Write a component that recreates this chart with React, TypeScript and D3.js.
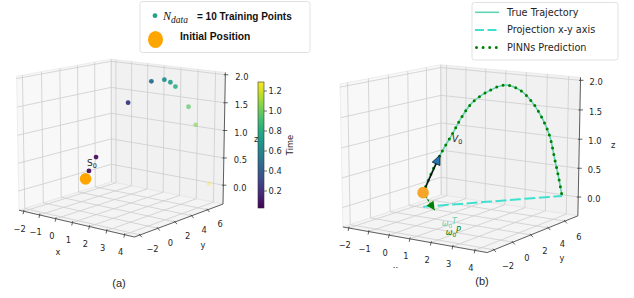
import React from 'react';
import * as d3 from 'd3';

// values
const xTicks = [-2, -1, 0, 1, 2, 3, 4];
const yTicks = [-2, 0, 2, 4, 6];
const zTicks = [0, 0.5, 1, 1.5, 2];
const cbTicks = [0.2, 0.4, 0.6, 0.8, 1.0, 1.2];
const timeRange: [number, number] = [0.03, 1.29];

// initial position S0
const s0 = [0.28, 0.15, 0.24];

// N_data = 10 training points, panel (a)
const trainX = [0.38, 0.59, 1.53, 2.21, 2.59, 2.77, 2.92, 3.32, 3.54, 3.97];
const trainY = [0.35, 0.76, 2.61, 3.96, 4.72, 5.07, 5.37, 6.15, 6.59, 7.44];
const trainZ = [0.38, 0.62, 1.56, 1.92, 1.94, 1.89, 1.81, 1.44, 1.11, 0.02];
const trainT = [0.03, 0.07, 0.28, 0.5, 0.64, 0.72, 0.8, 0.97, 1.05, 1.29];

// trajectory, panel (b)
const trajX = [0.28, 0.5, 0.71, 1.04, 1.22, 1.52, 1.91, 2.37, 2.75, 3.09, 3.36, 3.55, 3.69, 3.8, 3.9];
const trajY = [0.15, 0.58, 1.0, 1.65, 2.0, 2.6, 3.36, 4.27, 5.03, 5.71, 6.23, 6.61, 6.89, 7.1, 7.3];
const trajZ = [0.24, 0.57, 0.85, 1.21, 1.42, 1.69, 1.86, 1.96, 1.86, 1.63, 1.34, 1.04, 0.64, 0.33, 0.0];

const v0Tip = [0.71, 1.0, 0.85];
const omegaTip = [1.05, -0.3, 0.01];

const legendB = ['True Trajectory', 'Projection x-y axis', 'PINNs Prediction'];

const TRUE_COLOR = '#62d3b3';
const PROJ_COLOR = '#40e0d0';
const PRED_COLOR = '#008000';
const ORANGE = '#ffa500';
const GRID = '#cdcdcd';
const INK = '#262626';
const SANS = 'DejaVu Sans, sans-serif';
const TICK_FS = 8.3;

type Pt = { x: number; y: number; depth: number };
type View = {
  xlim: [number, number];
  ylim: [number, number];
  zlim: [number, number];
  azim: number;
  elev: number;
  dist: number;
  zAspect: number;
  sx: number;
  sy: number;
  cx: number;
  cy: number;
  xLab: [number, number];
  yLab: [number, number];
  zLab: [number, number];
  xTitle: [number, number];
  yTitle: [number, number];
  zTitle: [number, number];
  clipBottom: number;
};

const viewA: View = {
  xlim: [-2.3, 4.55], ylim: [-2.6, 8.0], zlim: [-0.35, 2.04],
  azim: -51.4, elev: 12, dist: 16, zAspect: 0.9,
  sx: 73.4, sy: 75.4, cx: 122, cy: 141.5,
  xLab: [-4, 17.5], yLab: [12.5, 14.5], zLab: [10, 2.5],
  xTitle: [-16.5, 29], yTitle: [22, 25], zTitle: [32, 0],
  clipBottom: 298,
};

const viewB: View = {
  xlim: [-2.3, 4.55], ylim: [-2.7, 7.6], zlim: [-0.33, 2.05],
  azim: -56, elev: 12, dist: 16, zAspect: 0.9,
  sx: 85.6, sy: 79.9, cx: 462.3, cy: 151.8,
  xLab: [-4, 17.5], yLab: [14, 16], zLab: [9, 2],
  xTitle: [-17, 29.5], yTitle: [27, 24.5], zTitle: [34, -2],
  clipBottom: 268,
};

function projector(v: View) {
  const a = (v.azim * Math.PI) / 180;
  const e = (v.elev * Math.PI) / 180;
  const nx = d3.scaleLinear().domain(v.xlim).range([-1, 1]);
  const ny = d3.scaleLinear().domain(v.ylim).range([-1, 1]);
  const nz = d3.scaleLinear().domain(v.zlim).range([-v.zAspect, v.zAspect]);
  const right = [-Math.sin(a), Math.cos(a), 0];
  const up = [-Math.sin(e) * Math.cos(a), -Math.sin(e) * Math.sin(a), Math.cos(e)];
  const toward = [Math.cos(e) * Math.cos(a), Math.cos(e) * Math.sin(a), Math.sin(e)];
  return (x: number, y: number, z: number): Pt => {
    const p = [nx(x), ny(y), nz(z)];
    const dot = (q: number[]) => p[0] * q[0] + p[1] * q[1] + p[2] * q[2];
    const depth = dot(toward);
    const f = v.dist / (v.dist - depth);
    return { x: v.cx + v.sx * dot(right) * f, y: v.cy - v.sy * dot(up) * f, depth };
  };
}

const fmtAxis = (t: number) => (t < 0 ? `\u2212${Math.abs(t)}` : `${t}`);

const Axes3D = ({ v, P, id }: { v: View; P: (x: number, y: number, z: number) => Pt; id: string }) => {
  const [x0, x1] = v.xlim;
  const [y0, y1] = v.ylim;
  const [z0, z1] = v.zlim;
  const poly = (arr: number[][]) =>
    arr.map(([x, y, z]) => { const q = P(x, y, z); return `${q.x.toFixed(2)},${q.y.toFixed(2)}`; }).join(' ');

  const unit = (d: [number, number]) => { const l = Math.hypot(d[0], d[1]); return [d[0] / l, d[1] / l]; };
  const ux = unit(v.xLab);
  const uy = unit(v.yLab);

  const xa = P((x0 + x1) / 2, y0, z0);
  const ya = P(x1, (y0 + y1) / 2, z0);
  const za = P(x1, y1, (z0 + z1) / 2);

  return (
    <g>
      <defs>
        <clipPath id={`clip-${id}`}>
          <rect x={0} y={0} width={634} height={v.clipBottom} />
        </clipPath>
      </defs>
      {/* panes */}
      <polygon points={poly([[x0, y0, z0], [x0, y1, z0], [x0, y1, z1], [x0, y0, z1]])} fill="#f8f8f8" stroke="#e3e3e3" strokeWidth={0.6} />
      <polygon points={poly([[x0, y1, z0], [x1, y1, z0], [x1, y1, z1], [x0, y1, z1]])} fill="#f1f1f1" stroke="#e3e3e3" strokeWidth={0.6} />
      <polygon points={poly([[x0, y0, z0], [x1, y0, z0], [x1, y1, z0], [x0, y1, z0]])} fill="#f4f4f4" stroke="#e3e3e3" strokeWidth={0.6} />
      {/* grid */}
      <g fill="none" stroke={GRID} strokeWidth={0.8}>
        {xTicks.map((t) => (
          <polyline key={`gx${t}`} points={poly([[t, y0, z0], [t, y1, z0], [t, y1, z1]])} />
        ))}
        {yTicks.map((t) => (
          <polyline key={`gy${t}`} points={poly([[x1, t, z0], [x0, t, z0], [x0, t, z1]])} />
        ))}
        {zTicks.map((t) => (
          <polyline key={`gz${t}`} points={poly([[x0, y0, t], [x0, y1, t], [x1, y1, t]])} />
        ))}
        <polyline points={poly([[x0, y1, z0], [x0, y1, z1]])} />
      </g>
      {/* axis lines */}
      <g fill="none" stroke="#3a3a3a" strokeWidth={0.8}>
        <polyline points={poly([[x0, y0, z0], [x1, y0, z0]])} />
        <polyline points={poly([[x1, y0, z0], [x1, y1, z0]])} />
        <polyline points={poly([[x1, y1, z0], [x1, y1, z1]])} />
      </g>
      <g fontFamily={SANS} fontSize={TICK_FS} fill={INK}>
        {xTicks.map((t) => {
          const q = P(t, y0, z0);
          return (
            <g key={`tx${t}`}>
              <line x1={q.x - ux[0] * 1.5} y1={q.y - ux[1] * 1.5} x2={q.x + ux[0] * 3} y2={q.y + ux[1] * 3} stroke="#3a3a3a" strokeWidth={0.8} />
              <text x={q.x + v.xLab[0]} y={q.y + v.xLab[1]} textAnchor="middle" dy="0.35em">{fmtAxis(t)}</text>
            </g>
          );
        })}
        {yTicks.map((t) => {
          const q = P(x1, t, z0);
          return (
            <g key={`ty${t}`}>
              <line x1={q.x - uy[0] * 1.5} y1={q.y - uy[1] * 1.5} x2={q.x + uy[0] * 3} y2={q.y + uy[1] * 3} stroke="#3a3a3a" strokeWidth={0.8} />
              <text x={q.x + v.yLab[0]} y={q.y + v.yLab[1]} textAnchor="middle" dy="0.35em">{fmtAxis(t)}</text>
            </g>
          );
        })}
        {zTicks.map((t) => {
          const q = P(x1, y1, t);
          return (
            <g key={`tz${t}`}>
              <line x1={q.x - 1.5} y1={q.y} x2={q.x + 3} y2={q.y} stroke="#3a3a3a" strokeWidth={0.8} />
              <text x={q.x + v.zLab[0]} y={q.y + v.zLab[1]} dy="0.35em">{t.toFixed(1)}</text>
            </g>
          );
        })}
        <text x={xa.x + v.xTitle[0]} y={xa.y + v.xTitle[1]} textAnchor="middle" dy="0.35em" clipPath={`url(#clip-${id})`}>x</text>
        <text x={ya.x + v.yTitle[0]} y={ya.y + v.yTitle[1]} textAnchor="middle" dy="0.35em">y</text>
        <text x={za.x + v.zTitle[0]} y={za.y + v.zTitle[1]} textAnchor="middle" dy="0.35em">z</text>
      </g>
    </g>
  );
};

const arrowHead = (from: Pt, to: Pt, len: number, half: number) => {
  const dx = to.x - from.x;
  const dy = to.y - from.y;
  const l = Math.hypot(dx, dy);
  const ux = dx / l;
  const uy = dy / l;
  const bx = to.x - ux * len;
  const by = to.y - uy * len;
  return `${to.x},${to.y} ${bx - uy * half},${by + ux * half} ${bx + uy * half},${by - ux * half}`;
};

const PanelA = () => {
  const P = projector(viewA);
  const color = d3.scaleSequential(d3.interpolateViridis).domain(timeRange);
  const pts = trainX.map((x, i) => ({ ...P(x, trainY[i], trainZ[i]), t: trainT[i] }));
  const [dMin, dMax] = d3.extent(pts, (d) => d.depth) as [number, number];
  const alpha = d3.scaleLinear().domain([dMin, dMax]).range([0.3, 1]);
  const order = [...pts].sort((a, b) => a.depth - b.depth);
  const s = P(s0[0], s0[1], s0[2]);

  const cbY = d3.scaleLinear().domain(timeRange).range([208, 82]);
  const stops = d3.range(0, 1.0001, 0.1);

  return (
    <g>
      <Axes3D v={viewA} P={P} id="a" />
      {order.map((d, i) => (
        <circle key={i} cx={d.x} cy={d.y} r={2.4} fill={color(d.t)} fillOpacity={alpha(d.depth)} />
      ))}
      <circle cx={s.x} cy={s.y} r={5.8} fill={ORANGE} />
      <text x={s.x + 1.5} y={s.y - 12.5} fontFamily={SANS} fontSize={9} fill={INK}>
        S<tspan fontSize={6.5} dy={2}>0</tspan>
      </text>

      {/* colorbar */}
      <defs>
        <linearGradient id="viridisBar" x1="0" y1="1" x2="0" y2="0">
          {stops.map((k) => (
            <stop key={k} offset={k} stopColor={d3.interpolateViridis(k)} />
          ))}
        </linearGradient>
      </defs>
      <rect x={258} y={cbY(timeRange[1])} width={6} height={cbY(timeRange[0]) - cbY(timeRange[1])} fill="url(#viridisBar)" stroke="#333" strokeWidth={0.6} />
      <g fontFamily={SANS} fontSize={TICK_FS} fill={INK}>
        {cbTicks.map((t) => (
          <g key={t}>
            <line x1={264} x2={267} y1={cbY(t)} y2={cbY(t)} stroke="#333" strokeWidth={0.7} />
            <text x={268.5} y={cbY(t)} dy="0.35em">{t.toFixed(1)}</text>
          </g>
        ))}
        <text transform={`translate(290,${cbY((timeRange[0] + timeRange[1]) / 2)}) rotate(-90)`} textAnchor="middle" dy="0.35em">Time</text>
      </g>

      {/* legend */}
      <rect x={140} y={1.5} width={170} height={51} rx={2.5} fill="#fff" stroke="#d9d9d9" strokeWidth={0.8} />
      <circle cx={155} cy={15.7} r={2.4} fill={d3.interpolateViridis(0.58)} />
      <text x={163} y={20} fontFamily="Liberation Serif, serif" fontStyle="italic" fontSize={12} fill="#111">
        N<tspan fontSize={9.5} dy={2.5}>data</tspan>
      </text>
      <text x={197} y={19.5} fontFamily="Liberation Sans, Arial, sans-serif" fontWeight="bold" fontSize={10} fill="#111">= 10 Training Points</text>
      <ellipse cx={155.5} cy={39.5} rx={7.5} ry={8.6} fill={ORANGE} />
      <text x={180} y={40} fontFamily="Liberation Sans, Arial, sans-serif" fontWeight="bold" fontSize={10.3} fill="#111">Initial Position</text>

      <text x={119} y={287} textAnchor="middle" fontFamily="Liberation Sans, Arial, sans-serif" fontSize={11} fill={INK}>(a)</text>
    </g>
  );
};

const PanelB = () => {
  const P = projector(viewB);
  const line = d3.line<Pt>().x((d) => d.x).y((d) => d.y).curve(d3.curveCatmullRom);
  const straight = d3.line<Pt>().x((d) => d.x).y((d) => d.y);
  const traj = trajX.map((x, i) => P(x, trajY[i], trajZ[i]));
  const proj = trajX.map((x, i) => P(x, trajY[i], 0));
  const s = P(s0[0], s0[1], s0[2]);
  const v0 = P(v0Tip[0], v0Tip[1], v0Tip[2]);
  const om = P(omegaTip[0], omegaTip[1], omegaTip[2]);

  return (
    <g>
      <Axes3D v={viewB} P={P} id="b" />
      <path d={straight(proj) ?? ''} fill="none" stroke={PROJ_COLOR} strokeWidth={2} strokeDasharray="11 3.5" />
      <path d={line(traj) ?? ''} fill="none" stroke={TRUE_COLOR} strokeWidth={1.6} />
      <path d={line(traj) ?? ''} fill="none" stroke={PRED_COLOR} strokeWidth={3} strokeDasharray="0 6.6" strokeLinecap="round" />

      {/* omega_0 arrow */}
      <line x1={s.x} y1={s.y} x2={om.x} y2={om.y} stroke={PRED_COLOR} strokeWidth={1.2} strokeDasharray="2.5 1.5" />
      <polygon points={arrowHead(s, om, 8.5, 4.2)} fill={PRED_COLOR} />
      {/* V0 arrow */}
      <line x1={s.x} y1={s.y} x2={v0.x} y2={v0.y} stroke="#111" strokeWidth={1.5} />
      <polygon points={arrowHead(s, v0, 9.5, 4.2)} fill="#1f77b4" stroke="#111" strokeWidth={0.8} />
      <circle cx={s.x} cy={s.y} r={5.8} fill="#f7a52a" />

      <text x={v0.x + 12} y={v0.y - 13.5} fontFamily={SANS} fontSize={9} fill={INK}>
        <tspan fontStyle="italic">V</tspan><tspan fontSize={6.5} dy={2}>0</tspan>
      </text>
      <text x={om.x + 7} y={om.y + 15.5} fontFamily={SANS} fontSize={8} fill={TRUE_COLOR}>
        <tspan fontStyle="italic">ω</tspan><tspan fontSize={5.8} dy={1.8}>0</tspan><tspan fontStyle="italic" dy={-3.8}>T</tspan>
      </text>
      <text x={om.x + 11} y={om.y + 24.5} fontFamily={SANS} fontSize={8} fill={PRED_COLOR}>
        <tspan fontStyle="italic">ω</tspan><tspan fontSize={5.8} dy={1.8}>0</tspan><tspan fontStyle="italic" dy={-3.8}>P</tspan>
      </text>

      {/* legend */}
      <rect x={472} y={2.5} width={146} height={57.5} rx={2.5} fill="#fff" stroke="#d9d9d9" strokeWidth={0.8} />
      {legendB.map((label, i) => {
        const cy = 12.3 + i * 17.6;
        return (
          <g key={label}>
            {i === 0 && <line x1={475} x2={499} y1={cy} y2={cy} stroke={TRUE_COLOR} strokeWidth={1.6} />}
            {i === 1 && <line x1={475} x2={499} y1={cy} y2={cy} stroke={PROJ_COLOR} strokeWidth={2} strokeDasharray="9 3.5" />}
            {i === 2 && <line x1={476.5} x2={499} y1={cy} y2={cy} stroke={PRED_COLOR} strokeWidth={3} strokeDasharray="0 6.6" strokeLinecap="round" />}
            <text x={507} y={cy} dy="0.35em" fontFamily={SANS} fontSize={9.7} fill={INK}>{label}</text>
          </g>
        );
      })}

      <text x={482} y={285} textAnchor="middle" fontFamily="Liberation Sans, Arial, sans-serif" fontSize={11} fill={INK}>(b)</text>
    </g>
  );
};

export default function App() {
  return (
    <svg width={634} height={298} style={{ position: 'absolute', left: 0, top: 0, background: '#fff' }}>
      <rect width={634} height={298} fill="#fff" />
      <PanelA />
      <PanelB />
    </svg>
  );
}
